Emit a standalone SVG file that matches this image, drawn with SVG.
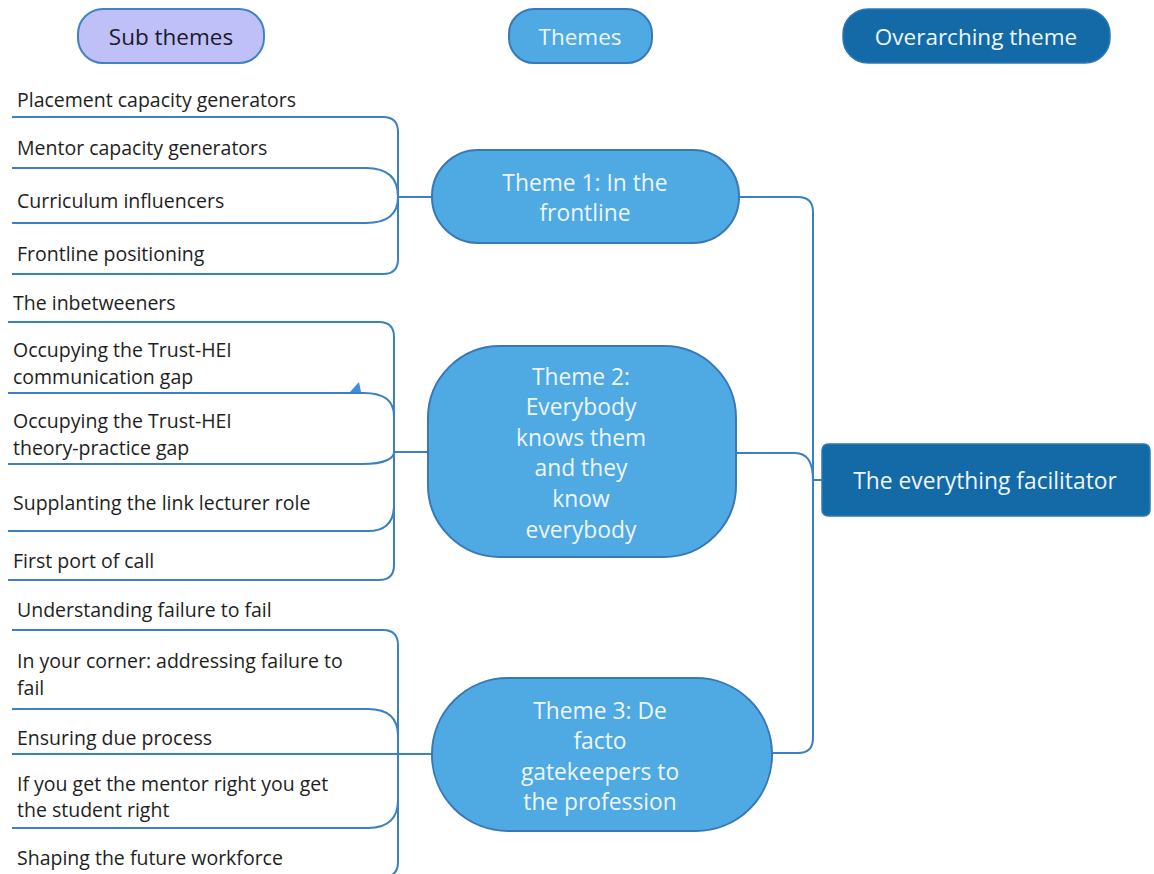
<svg xmlns="http://www.w3.org/2000/svg" width="1154" height="874" viewBox="0 0 1154 874">
  <style>
    .sub { font-family: "Open Sans", "Noto Sans", sans-serif; font-size: 19.5px; fill: #1e1e1e; }
    .thm { font-family: "Open Sans", "Noto Sans", sans-serif; font-size: 22.8px; fill: #eef6fd; text-anchor: middle; }
    .hdr { font-family: "Open Sans", "Noto Sans", sans-serif; font-size: 22.5px; text-anchor: middle; }
    .link { fill: none; stroke: #3b80c3; stroke-width: 2; }
    .theme { fill: #4faae3; stroke: #3978b8; stroke-width: 2; }
    .top { fill: #136aa6; stroke: #2f78b8; stroke-width: 1.5; }
  </style>

  <rect width="1154" height="874" fill="#ffffff"/>

  <!-- column headers -->
  <g id="hdr-sub">
    <rect x="78" y="9" width="186" height="54" rx="25" fill="#c0c0f8" stroke="#3f82c6" stroke-width="2"/>
    <text class="hdr" x="171" y="45" fill="#1a1a2a">Sub themes</text>
  </g>
  <g id="hdr-themes">
    <rect x="509" y="9" width="143" height="54" rx="25" fill="#4faae3" stroke="#3978b8" stroke-width="2"/>
    <text class="hdr" x="580" y="45" fill="#eef6fd">Themes</text>
  </g>
  <g id="hdr-overarching">
    <rect x="843" y="9" width="267" height="54" rx="25" fill="#136aa6" stroke="#2f78b8" stroke-width="1.5"/>
    <text class="hdr" x="976" y="45" fill="#eef6fd">Overarching theme</text>
  </g>

  <!-- connectors -->
  <g id="connectors">
    <!-- theme 1 bracket -->
    <path class="link" d="M12,117 H383 Q398,117 398,132 V259 Q398,274 383,274 H12"/>
    <path class="link" d="M12,168 H366 C390,168 398,180 398,197"/>
    <path class="link" d="M12,223 H366 C390,223 398,212 398,197"/>
    <path class="link" d="M398,197 H432"/>
    <!-- theme 2 bracket -->
    <path class="link" d="M8,322 H379 Q394,322 394,337 V565 Q394,580 379,580 H8"/>
    <path class="link" d="M8,393 H364 C386,393 394,402 394,416"/>
    <path class="link" d="M8,464 H362 C386,464 394,458 394,452"/>
    <path class="link" d="M8,531 H368 C388,531 394,520 394,505"/>
    <path class="link" d="M394,452 H428"/>
    <polygon points="350,392 361,392 359,382" fill="#3b8ee0"/>
    <!-- theme 3 bracket -->
    <path class="link" d="M12,630 H383 Q398,630 398,645 V862 Q398,877 383,877 H12"/>
    <path class="link" d="M12,709 H368 C390,709 398,720 398,736"/>
    <path class="link" d="M12,828 H368 C390,828 398,816 398,800"/>
    <path class="link" d="M12,754 H432"/>
    <!-- themes to overarching theme -->
    <path class="link" d="M739,197 H798 Q813,197 813,212 V738 Q813,753 798,753 H772"/>
    <path class="link" d="M736,453 H795 C808,453 813,464 813,480 H822"/>
  </g>

  <!-- themes -->
  <g id="theme1">
    <rect class="theme" x="432" y="150" width="307" height="93" rx="46"/>
    <text class="thm" x="585" y="191">Theme 1: In the</text>
    <text class="thm" x="585" y="221">frontline</text>
  </g>
  <g id="theme2">
    <rect class="theme" x="428" y="346" width="308" height="211" rx="72"/>
    <text class="thm" x="581" y="385">Theme 2:</text>
    <text class="thm" x="581" y="415">Everybody</text>
    <text class="thm" x="581" y="446">knows them</text>
    <text class="thm" x="581" y="476">and they</text>
    <text class="thm" x="581" y="507">know</text>
    <text class="thm" x="581" y="538">everybody</text>
  </g>
  <g id="theme3">
    <rect class="theme" x="432" y="678" width="340" height="153" rx="76"/>
    <text class="thm" x="600" y="719">Theme 3: De</text>
    <text class="thm" x="600" y="749">facto</text>
    <text class="thm" x="600" y="780">gatekeepers to</text>
    <text class="thm" x="600" y="810">the profession</text>
  </g>

  <!-- overarching theme -->
  <g id="overarching">
    <rect class="top" x="822" y="444" width="328" height="72" rx="6"/>
    <text class="thm" x="985" y="489">The everything facilitator</text>
  </g>

  <!-- sub themes, theme 1 -->
  <g id="sub1-1"><text class="sub" x="17" y="107">Placement capacity generators</text></g>
  <g id="sub1-2"><text class="sub" x="17" y="155">Mentor capacity generators</text></g>
  <g id="sub1-3"><text class="sub" x="17" y="208">Curriculum influencers</text></g>
  <g id="sub1-4"><text class="sub" x="17" y="261">Frontline positioning</text></g>

  <!-- sub themes, theme 2 -->
  <g id="sub2-1"><text class="sub" x="13" y="310">The inbetweeners</text></g>
  <g id="sub2-2">
    <text class="sub" x="13" y="357">Occupying the Trust-HEI</text>
    <text class="sub" x="13" y="384">communication gap</text>
  </g>
  <g id="sub2-3">
    <text class="sub" x="13" y="428">Occupying the Trust-HEI</text>
    <text class="sub" x="13" y="455">theory-practice gap</text>
  </g>
  <g id="sub2-4"><text class="sub" x="13" y="510">Supplanting the link lecturer role</text></g>
  <g id="sub2-5"><text class="sub" x="13" y="568">First port of call</text></g>

  <!-- sub themes, theme 3 -->
  <g id="sub3-1"><text class="sub" x="17" y="617">Understanding failure to fail</text></g>
  <g id="sub3-2">
    <text class="sub" x="17" y="668">In your corner: addressing failure to</text>
    <text class="sub" x="17" y="695">fail</text>
  </g>
  <g id="sub3-3"><text class="sub" x="17" y="745">Ensuring due process</text></g>
  <g id="sub3-4">
    <text class="sub" x="17" y="791">If you get the mentor right you get</text>
    <text class="sub" x="17" y="817">the student right</text>
  </g>
  <g id="sub3-5"><text class="sub" x="17" y="865">Shaping the future workforce</text></g>
</svg>
